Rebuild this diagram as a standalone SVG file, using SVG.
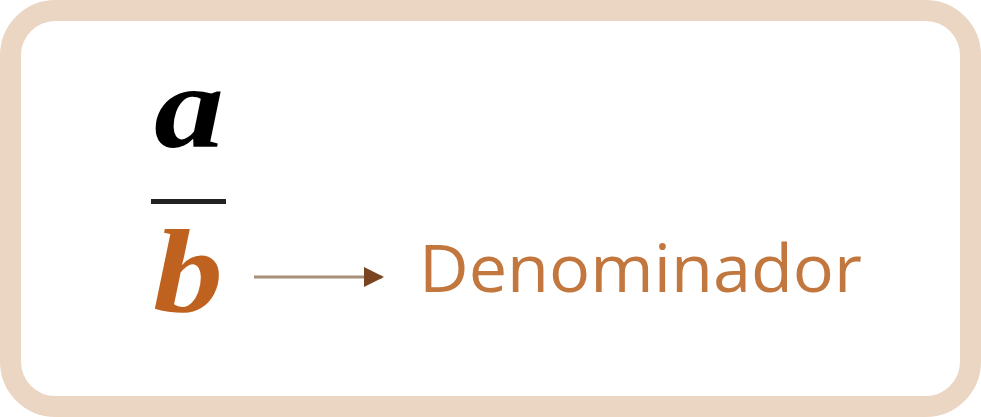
<svg xmlns="http://www.w3.org/2000/svg" width="981" height="417" viewBox="0 0 981 417">
<defs>
<style>
.frame{fill:#ffffff;stroke:#ebd5c3;stroke-width:21}
.var{font-family:"Liberation Serif",serif;font-style:italic;font-weight:bold;font-size:118px}
.lbl{font-family:"Open Sans","Noto Sans",sans-serif;font-size:66px;fill:#c2773f}
</style>
<marker id="ah" viewBox="0 0 10 10" refX="9" refY="5" markerWidth="24" markerHeight="20" markerUnits="userSpaceOnUse" orient="auto"><path d="M0,0 L10,5 L0,10 Z" fill="#7a4420"/></marker>
</defs>
<rect class="frame" x="10.5" y="10.5" width="960" height="396" rx="45" ry="45"/>
<g id="numerator"><text class="var" x="154" y="147" fill="#000000" textLength="70" lengthAdjust="spacingAndGlyphs">a</text></g>
<g id="fraction-bar"><rect x="151" y="199" width="75" height="5" fill="#222222"/></g>
<g id="denominator-var"><text class="var" x="153" y="311" fill="#c0621f" textLength="70" lengthAdjust="spacingAndGlyphs">b</text></g>
<g id="connectors"><line x1="254" y1="277" x2="382" y2="277" stroke="#a89078" stroke-width="3" marker-end="url(#ah)"/></g>
<g id="label"><text class="lbl" x="419" y="292" textLength="443" lengthAdjust="spacingAndGlyphs">Denominador</text></g>
</svg>
